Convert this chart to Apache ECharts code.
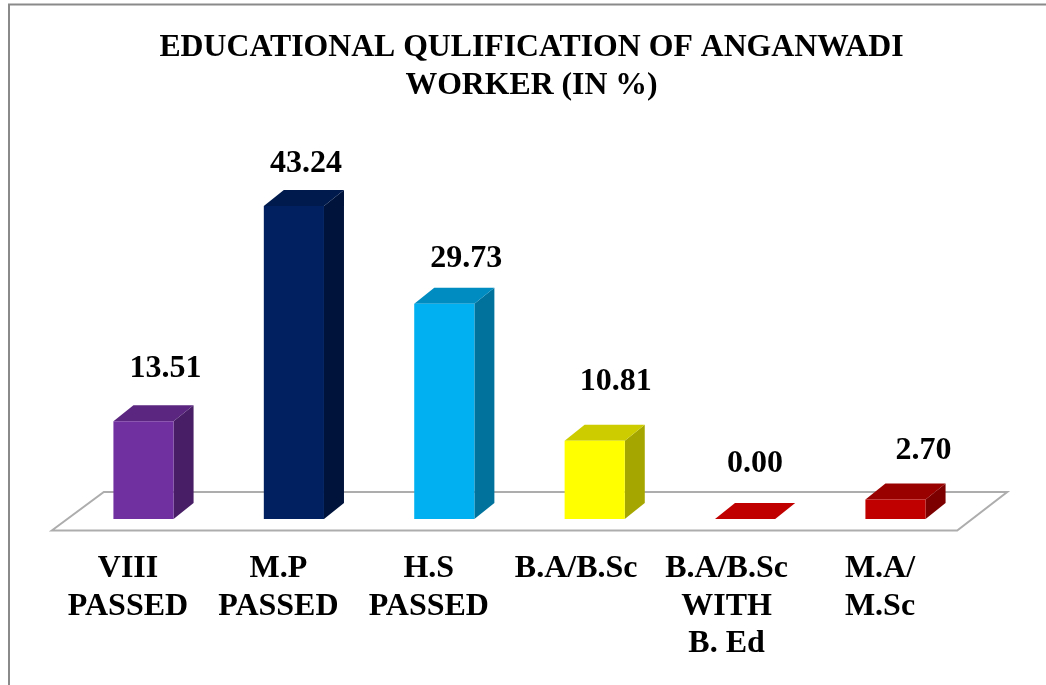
<!DOCTYPE html>
<html>
<head>
<meta charset="utf-8">
<style>
  html, body { margin: 0; padding: 0; background: #fff; }
  #grafico { width: 1046px; height: 685px; }
</style>
<script src="https://cdn.jsdelivr.net/npm/echarts@6/dist/echarts.min.js"></script>
</head>
<body>
<div id="grafico"></div>
<script>
const categorias = ['VIII\nPASSED', 'M.P\nPASSED', 'H.S\nPASSED', 'B.A/B.Sc', 'B.A/B.Sc\nWITH\nB. Ed', 'M.A/\nM.Sc']
const valores = [13.51, 43.24, 29.73, 10.81, 0.00, 2.70]

const coloresFrente = ['#7030a0', '#002060', '#00b0f0', '#ffff00', '#c00000', '#c00000']
const coloresTapa = ['#5a267f', '#001a4d', '#008cc0', '#cccc00', '#c00000', '#990000']
const coloresLado = ['#481f66', '#00133b', '#00729c', '#a6a600', '#c00000', '#7c0000']

// the value labels sit by hand in the original, [dx, dy] from the bar's back top corner
const ajusteEtiqueta = [[12, -36], [2, -26], [12, -29], [11, -43], [0, -39], [18, -33]]

const fuente = '"Liberation Serif", "Times New Roman", serif'
const fondoX = 20   // depth of the 3d bars
const fondoY = -16
const corrimiento = 15.5   // bars sit right of the category label

function dibujarPiso(params) {
  const g = params.coordSys
  const base = g.y + g.height
  const der = g.x + g.width
  return {
    type: 'polygon',
    shape: {
      points: [
        [g.x - 1, base + 11.5],
        [g.x + 51, base - 27],
        [der + 52, base - 27],
        [der + 2, base + 11.5]
      ]
    },
    style: { fill: '#fff', stroke: '#adadad', lineWidth: 2 }
  }
}

function dibujarBarra(params, api) {
  const i = api.value(0)
  const valor = api.value(1)
  const arriba = api.coord([i, valor])
  const abajo = api.coord([i, 0])
  const ancho = api.size([1, 0])[0] * 0.4
  const x0 = arriba[0] + corrimiento - ancho / 2
  const x1 = x0 + ancho
  const yT = arriba[1]
  const yB = abajo[1]
  const hijos = [
    {
      type: 'polygon',
      shape: { points: [[x1, yT], [x1 + fondoX, yT + fondoY], [x1 + fondoX, yB + fondoY], [x1, yB]] },
      style: { fill: coloresLado[i] }
    },
    {
      type: 'polygon',
      shape: { points: [[x0, yT], [x0 + fondoX, yT + fondoY], [x1 + fondoX, yT + fondoY], [x1, yT]] },
      style: { fill: coloresTapa[i] }
    },
    {
      type: 'rect',
      shape: { x: x0, y: yT, width: ancho, height: yB - yT },
      style: { fill: coloresFrente[i] }
    },
    {
      type: 'text',
      style: {
        x: (x0 + x1 + fondoX) / 2 + ajusteEtiqueta[i][0],
        y: yT + fondoY + ajusteEtiqueta[i][1],
        text: valor.toFixed(2),
        fill: '#000',
        font: 'bold 32px ' + fuente,
        textAlign: 'center',
        textVerticalAlign: 'middle'
      }
    }
  ]
  return { type: 'group', children: hijos }
}

// these two labels sit a little left of the even spacing
function etiquetaCategoria(valor, i) {
  if (i !== 3 && i !== 4) return valor
  return valor.split('\n').map(linea => '{corrido|' + linea + '}').join('\n')
}

const chart = echarts.init(document.getElementById('grafico'), null, { renderer: 'canvas' })

const option = {
  animation: false,
  backgroundColor: '#fff',
  title: {
    text: 'EDUCATIONAL QULIFICATION OF ANGANWADI\nWORKER (IN %)',
    left: 526.5,
    top: 24,
    textAlign: 'center',
    textStyle: {
      fontFamily: fuente,
      fontWeight: 'bold',
      fontSize: 31.75,
      lineHeight: 38,
      color: '#000'
    }
  },
  graphic: [
    {
      type: 'polyline',
      silent: true,
      shape: { points: [[9, 685], [9, 4.5], [1046, 4.5]] },
      style: { fill: null, stroke: '#8a8a8a', lineWidth: 2 }
    }
  ],
  grid: { left: 52.8, width: 902.4, top: 157, height: 362 },
  xAxis: {
    type: 'category',
    data: categorias,
    axisLine: { show: false },
    axisTick: { show: false },
    splitLine: { show: false },
    axisLabel: {
      interval: 0,
      margin: 31,
      color: '#000',
      fontFamily: fuente,
      fontWeight: 'bold',
      fontSize: 32,
      lineHeight: 37.5,
      formatter: etiquetaCategoria,
      rich: {
        corrido: {
          color: '#000',
          fontFamily: fuente,
          fontWeight: 'bold',
          fontSize: 32,
          lineHeight: 37.5,
          padding: [0, 6, 0, 0]
        }
      }
    }
  },
  yAxis: {
    type: 'value',
    min: 0,
    max: 50,
    show: false
  },
  series: [
    {
      type: 'custom',
      coordinateSystem: 'cartesian2d',
      renderItem: dibujarPiso,
      silent: true,
      z: 1,
      data: [[0, 0]]
    },
    {
      type: 'custom',
      coordinateSystem: 'cartesian2d',
      renderItem: dibujarBarra,
      z: 2,
      encode: { x: 0, y: 1 },
      data: valores.map((v, i) => [i, v])
    }
  ]
}

chart.setOption(option)
</script>
</body>
</html>
